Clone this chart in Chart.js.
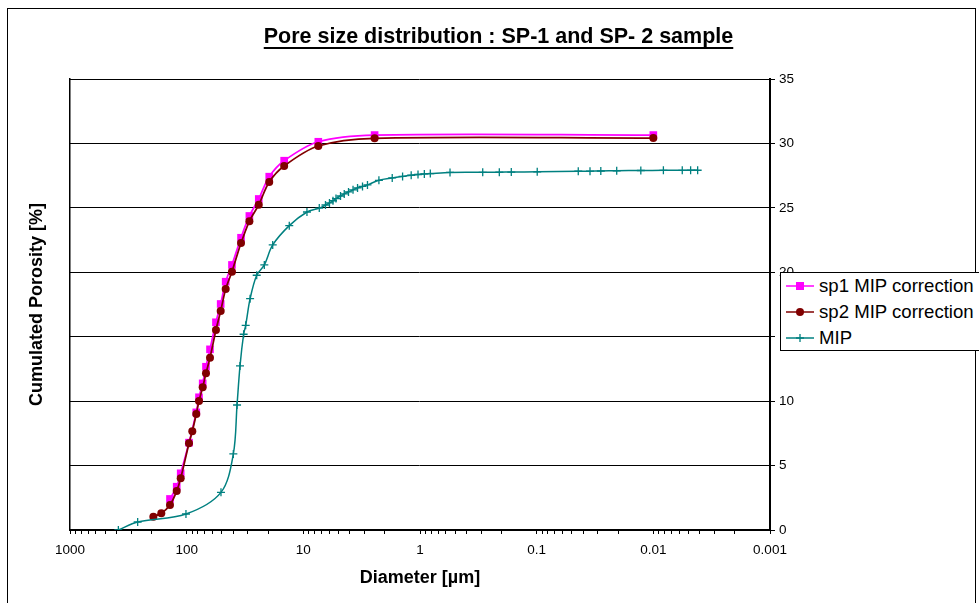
<!DOCTYPE html>
<html>
<head>
<meta charset="utf-8">
<title>Pore size distribution</title>
<script src="https://cdn.jsdelivr.net/npm/chart.js@4.4.1/dist/chart.umd.min.js"></script>
<style>
  html, body { margin: 0; padding: 0; background: #fff; overflow: hidden; }
  #wrap { position: relative; width: 979px; height: 603px; }
  #chart { position: absolute; left: 0; top: 0; }
  #frame { position: absolute; left: 7px; top: 8px; width: 969px; height: 640px;
           border: 1px solid #000; box-sizing: border-box; pointer-events: none; }
  #legend { position: absolute; left: 780px; top: 272px; width: 230px; height: 79px;
            border: 1px solid #000; background: #fff; box-sizing: border-box;
            font-family: "Liberation Sans", Arial, sans-serif; font-size: 18.6px; color: #000; }
  #legend .item { position: absolute; left: 5px; height: 22px; display: flex; align-items: center; white-space: nowrap; }
  #legend svg { margin-right: 5px; }
</style>
</head>
<body>
<div id="wrap">
  <canvas id="chart" width="979" height="603"></canvas>
  <div id="frame"></div>
  <div id="legend"></div>
</div>
<script>
// Pore diameters (µm) and cumulated porosity (%) per series
const sp1Diameter = [139, 121.7, 112.5, 95.5, 82.7, 78.4, 72.9, 68.3, 63.1, 56.1, 51.1, 46.3, 40.9, 34.2, 29.0, 24.1, 19.6, 14.6, 7.44, 2.45, 0.01];
const sp1Porosity = [2.41, 3.36, 4.40, 6.78, 9.13, 10.30, 11.38, 12.67, 14.02, 16.12, 17.54, 19.27, 20.57, 22.68, 24.37, 25.69, 27.42, 28.66, 30.13, 30.65, 30.65];

const sp2Diameter = [193, 165, 139, 121.7, 112.5, 95.5, 89.5, 82.7, 78.4, 72.9, 68.3, 63.1, 56.1, 51.1, 46.3, 40.9, 34.2, 29.0, 24.1, 19.6, 14.6, 7.44, 2.45, 0.01];
const sp2Porosity = [1.03, 1.30, 1.94, 3.03, 4.01, 6.73, 7.66, 9.00, 10.01, 11.07, 12.16, 13.37, 15.52, 17.0, 18.70, 20.05, 22.27, 23.96, 25.24, 27.01, 28.25, 29.80, 30.40, 30.42];

const mipDiameter = [385, 263, 101.4, 50.8, 39.8, 37.0, 34.9, 32.5, 31.2, 28.6, 25.1, 21.6, 18.3, 13.2, 9.31, 7.30, 6.46, 5.97, 5.57, 5.25, 4.80, 4.46, 4.10, 3.75, 3.43, 3.11, 2.82, 2.25, 1.73, 1.41, 1.19, 1.04, 0.918, 0.816, 0.553, 0.290, 0.209, 0.165, 0.0989, 0.0440, 0.0349, 0.0282, 0.0206, 0.0128, 0.0082, 0.00565, 0.00479, 0.00417];
const mipPorosity = [0, 0.62, 1.24, 2.92, 5.9, 9.70, 12.73, 15.19, 15.88, 17.95, 19.77, 20.57, 22.12, 23.62, 24.68, 24.98, 25.22, 25.38, 25.55, 25.72, 25.92, 26.08, 26.24, 26.40, 26.55, 26.66, 26.78, 27.14, 27.32, 27.44, 27.53, 27.59, 27.63, 27.66, 27.75, 27.76, 27.77, 27.78, 27.80, 27.84, 27.85, 27.86, 27.88, 27.90, 27.91, 27.91, 27.92, 27.92];

const seriesNames = ['sp1 MIP correction', 'sp2 MIP correction', 'MIP'];
const xTickLabels = ['1000', '100', '10', '1', '0.1', '0.01', '0.001'];
const yTickValues = [0, 5, 10, 15, 20, 25, 30, 35];

const chartTitle = 'Pore size distribution : SP-1 and SP- 2 sample';
const xTitle = 'Diameter [µm]';
const yTitle = 'Cumulated Porosity [%]';

const FONT = '"Liberation Sans", Arial, Helvetica, sans-serif';
Chart.defaults.font.family = FONT;
Chart.defaults.color = '#000';

function pairs(xs, ys) { return xs.map((x, i) => ({ x: x, y: ys[i] })); }

// Underline under the chart title
const titleUnderline = {
  id: 'titleUnderline',
  afterDraw(chart) {
    const tb = chart.titleBlock;
    if (!tb) return;
    const opts = chart.options.plugins.title;
    const size = opts.font.size;
    const ctx = chart.ctx;
    ctx.save();
    ctx.font = 'bold ' + size + 'px ' + FONT;
    const w = ctx.measureText(chartTitle).width;
    const cx = (tb.left + tb.right) / 2;
    const cy = tb.top + opts.padding.top + size * 1.2 / 2;
    ctx.fillStyle = '#000';
    ctx.fillRect(cx - w / 2, Math.round(cy + size * 0.45), w, 2);
    ctx.restore();
  }
};

const colors = ['#FF00FF', '#800000', '#008080'];

new Chart(document.getElementById('chart'), {
  type: 'line',
  data: {
    datasets: [
      {
        label: seriesNames[0],
        data: pairs(sp1Diameter, sp1Porosity),
        borderColor: colors[0], backgroundColor: colors[0],
        borderWidth: 1.75, tension: 0.33,
        pointStyle: 'rect', pointRadius: 5.4, pointBorderWidth: 0,
        order: 2
      },
      {
        label: seriesNames[1],
        data: pairs(sp2Diameter, sp2Porosity),
        borderColor: colors[1], backgroundColor: colors[1],
        borderWidth: 1.75, tension: 0.33,
        pointStyle: 'circle', pointRadius: 4, pointBorderWidth: 0,
        order: 1
      },
      {
        label: seriesNames[2],
        data: pairs(mipDiameter, mipPorosity),
        borderColor: colors[2], backgroundColor: colors[2],
        borderWidth: 1.5, tension: 0.33,
        pointStyle: 'cross', pointRadius: 4, pointBorderWidth: 1.3,
        order: 0
      }
    ]
  },
  options: {
    responsive: false,
    animation: false,
    events: [],
    layout: { padding: { left: 18, right: 0, top: 0, bottom: 0 } },
    plugins: {
      legend: { display: false },
      tooltip: { enabled: false },
      title: {
        display: true,
        text: chartTitle,
        color: '#000',
        font: { family: FONT, size: 21.5, weight: 'bold', lineHeight: 1.2 },
        padding: { top: 24.1, bottom: 29.1 }
      }
    },
    scales: {
      x: {
        type: 'logarithmic',
        position: 'bottom',
        reverse: true,
        min: 0.001,
        max: 1000,
        afterBuildTicks(scale) {
          const t = [];
          for (let e = -3; e <= 3; e++) {
            for (let m = 1; m <= 9; m++) {
              const v = parseFloat((m * Math.pow(10, e)).toPrecision(4));
              if (v > 1000) break;
              t.push({ value: v });
            }
          }
          scale.ticks = t;
        },
        afterFit(scale) { scale.height = 73; },
        ticks: {
          autoSkip: false, maxRotation: 0, minRotation: 0,
          padding: 8,
          color: '#000',
          font: { family: FONT, size: 13.5 },
          callback(value) {
            const lg = Math.log10(value);
            if (Math.abs(lg - Math.round(lg)) > 1e-6) return '';
            return xTickLabels[3 - Math.round(lg)];
          }
        },
        grid: { display: true, drawOnChartArea: false, drawTicks: true, tickLength: 4, color: '#000', lineWidth: 1 },
        border: { display: true, color: '#000', width: 2 },
        title: {
          display: true, text: xTitle, color: '#000',
          font: { family: FONT, size: 18, weight: 'bold', lineHeight: 1.2 },
          padding: { top: 0, bottom: 14 }
        }
      },
      y: {
        type: 'linear',
        position: 'right',
        min: 0,
        max: 35,
        afterBuildTicks(scale) { scale.ticks = yTickValues.map(v => ({ value: v })); },
        afterFit(scale) { scale.width = 209; },
        ticks: { padding: 4, color: '#000', font: { family: FONT, size: 13.5 }, crossAlign: 'near' },
        grid: { display: true, drawOnChartArea: true, drawTicks: true, tickLength: 5, color: '#000', lineWidth: 1 },
        border: { display: true, color: '#000', width: 2 }
      },
      yLeft: {
        type: 'linear',
        position: 'left',
        min: 0,
        max: 35,
        afterFit(scale) { scale.width = 52; },
        ticks: { display: false },
        grid: { display: true, drawOnChartArea: false, drawTicks: false },
        border: { display: true, color: '#000', width: 1.5 },
        title: {
          display: true, text: yTitle, color: '#000',
          font: { family: FONT, size: 18, weight: 'bold', lineHeight: 1.2 },
          padding: { top: 8.2, bottom: 0 }
        }
      }
    }
  },
  plugins: [titleUnderline]
});

// Legend box laid over the right-hand axis
(function buildLegend() {
  const legend = document.getElementById('legend');
  const markers = [
    '<rect x="10" y="3" width="8" height="8" fill="' + colors[0] + '"/>',
    '<circle cx="14" cy="7" r="4" fill="' + colors[1] + '"/>',
    '<path d="M14 3 V11 M10 7 H18" stroke="' + colors[2] + '" stroke-width="1.3" fill="none"/>'
  ];
  const rowCenters = [13, 39, 65];
  seriesNames.forEach((name, i) => {
    const item = document.createElement('div');
    item.className = 'item';
    item.style.top = (rowCenters[i] - 11) + 'px';
    item.innerHTML =
      '<svg width="28" height="14" viewBox="0 0 28 14">' +
      '<line x1="0" y1="7" x2="28" y2="7" stroke="' + colors[i] + '" stroke-width="1.5"/>' +
      markers[i] + '</svg><span>' + name + '</span>';
    legend.appendChild(item);
  });
})();
</script>
</body>
</html>
